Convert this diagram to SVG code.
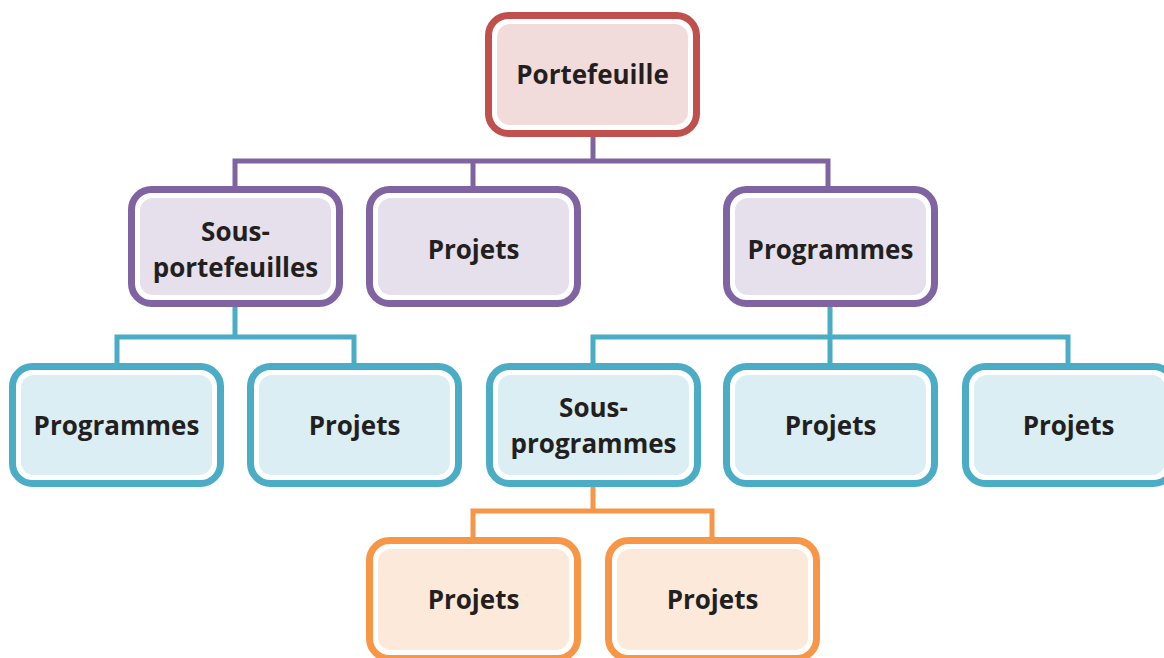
<svg xmlns="http://www.w3.org/2000/svg" width="1164" height="658" viewBox="0 0 1164 658">
  <style>
    .frame { fill: #ffffff; stroke-width: 7; }
    .lbl { font-family: "Open Sans", "Noto Sans", sans-serif; font-weight: bold; font-size: 26px; fill: #231f20; text-anchor: middle; }
    .red .frame { stroke: #c0504d; } .red .fill { fill: #f2dcdb; }
    .purple .frame { stroke: #8064a2; } .purple .fill { fill: #e5e0ec; }
    .teal .frame { stroke: #4bacc6; } .teal .fill { fill: #daeef3; }
    .orange .frame { stroke: #f79646; } .orange .fill { fill: #fde9d9; }
    .link { fill: none; stroke-width: 5; }
    .l-purple { stroke: #8064a2; } .l-teal { stroke: #4bacc6; } .l-orange { stroke: #f79646; }
  </style>

  <!-- connectors -->
  <g id="connectors">
    <path class="link l-purple" d="M593 137 V161 M235 186 V161 H828 V186 M473 161 V186"/>
    <path class="link l-teal" d="M235 307 V337 M117 363 V337 H354 V363"/>
    <path class="link l-teal" d="M830 307 V363 M593 363 V337 H1068 V363"/>
    <path class="link l-orange" d="M593 487 V511 M473 537 V511 H712 V537"/>
  </g>

  <!-- level 0 -->
  <g id="portefeuille" class="red">
    <rect class="frame" x="488.5" y="15.5" width="208" height="118" rx="20"/>
    <rect class="fill" x="497" y="24" width="191" height="101" rx="13"/>
    <text class="lbl" x="592.5" y="84">Portefeuille</text>
  </g>

  <!-- level 1 -->
  <g id="sous-portefeuilles" class="purple">
    <rect class="frame" x="131.5" y="189.5" width="208" height="114" rx="20"/>
    <rect class="fill" x="140" y="198" width="191" height="97" rx="13"/>
    <text class="lbl" x="235.5" y="241">Sous-</text>
    <text class="lbl" x="235.5" y="277">portefeuilles</text>
  </g>
  <g id="projets-1" class="purple">
    <rect class="frame" x="369.5" y="189.5" width="208" height="114" rx="20"/>
    <rect class="fill" x="378" y="198" width="191" height="97" rx="13"/>
    <text class="lbl" x="473.5" y="259">Projets</text>
  </g>
  <g id="programmes-1" class="purple">
    <rect class="frame" x="726.5" y="189.5" width="208" height="114" rx="20"/>
    <rect class="fill" x="735" y="198" width="191" height="97" rx="13"/>
    <text class="lbl" x="830.5" y="259">Programmes</text>
  </g>

  <!-- level 2 -->
  <g id="programmes-2" class="teal">
    <rect class="frame" x="12.5" y="366.5" width="208" height="117" rx="20"/>
    <rect class="fill" x="21" y="375" width="191" height="100" rx="13"/>
    <text class="lbl" x="116.5" y="435">Programmes</text>
  </g>
  <g id="projets-2" class="teal">
    <rect class="frame" x="250.5" y="366.5" width="208" height="117" rx="20"/>
    <rect class="fill" x="259" y="375" width="191" height="100" rx="13"/>
    <text class="lbl" x="354.5" y="435">Projets</text>
  </g>
  <g id="sous-programmes" class="teal">
    <rect class="frame" x="489.5" y="366.5" width="208" height="117" rx="20"/>
    <rect class="fill" x="498" y="375" width="191" height="100" rx="13"/>
    <text class="lbl" x="593.5" y="417">Sous-</text>
    <text class="lbl" x="593.5" y="453">programmes</text>
  </g>
  <g id="projets-3" class="teal">
    <rect class="frame" x="726.5" y="366.5" width="208" height="117" rx="20"/>
    <rect class="fill" x="735" y="375" width="191" height="100" rx="13"/>
    <text class="lbl" x="830.5" y="435">Projets</text>
  </g>
  <g id="projets-4" class="teal">
    <rect class="frame" x="965.5" y="366.5" width="208" height="117" rx="20"/>
    <rect class="fill" x="974" y="375" width="191" height="100" rx="13"/>
    <text class="lbl" x="1068.5" y="435">Projets</text>
  </g>

  <!-- level 3 -->
  <g id="projets-5" class="orange">
    <rect class="frame" x="369.5" y="540.5" width="208" height="118" rx="20"/>
    <rect class="fill" x="378" y="549" width="191" height="101" rx="13"/>
    <text class="lbl" x="473.5" y="609">Projets</text>
  </g>
  <g id="projets-6" class="orange">
    <rect class="frame" x="608.5" y="540.5" width="208" height="118" rx="20"/>
    <rect class="fill" x="617" y="549" width="191" height="101" rx="13"/>
    <text class="lbl" x="712.5" y="609">Projets</text>
  </g>
</svg>
